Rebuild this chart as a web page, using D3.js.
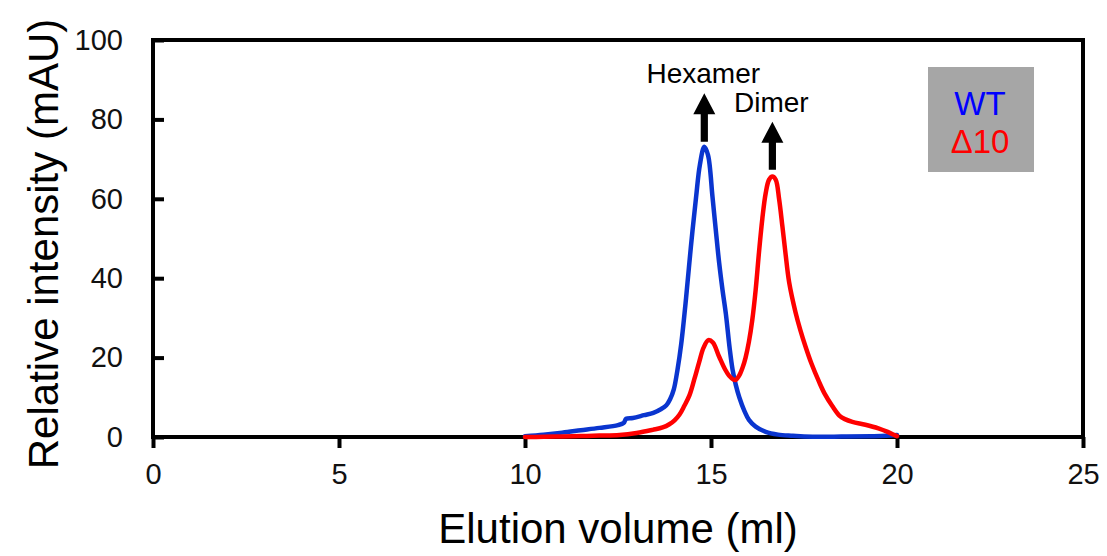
<!DOCTYPE html>
<html>
<head>
<meta charset="utf-8">
<script src="https://cdn.jsdelivr.net/npm/d3@7"></script>
<style>
  body { margin: 0; background: #fff; }
  svg { display: block; }
  svg text { font-family: Arial, "Liberation Sans", sans-serif; }
</style>
</head>
<body>
<svg id="chart" width="1107" height="556"></svg>
<script>
// WT trace (elution volume in ml, intensity in mAU)
var wtVolume = [10.0, 10.5, 11.0, 11.5, 12.0, 12.5, 12.65, 12.72, 12.9, 13.2, 13.45, 13.65, 13.8, 13.9,
  14.0, 14.1, 14.2, 14.33, 14.46, 14.6, 14.7, 14.82, 14.92, 15.04, 15.13, 15.22, 15.31, 15.4, 15.5,
  15.58, 15.67, 15.76, 15.9, 16.02, 16.2, 16.47, 16.8, 17.2, 17.5, 18.5, 19.3, 19.7, 20.0];
var wtValues = [0.2, 0.6, 1.1, 1.7, 2.3, 3.0, 3.5, 4.6, 4.8, 5.5, 6.1, 7.0, 8.0, 9.5,
  12, 17, 23.5, 35, 48, 60.5, 68.5, 73.1, 71, 60.5, 52, 43.8, 37, 31, 22.5,
  17, 13, 10, 6.5, 4.3, 2.6, 1.3, 0.6, 0.3, 0.1, 0.1, 0.2, 0.3, 0.5];

// Δ10 trace
var d10Volume = [10.0, 10.5, 11.0, 11.5, 12.0, 12.54, 13.0, 13.43, 13.7, 13.88, 14.02, 14.15, 14.28,
  14.42, 14.55, 14.68, 14.8, 14.93, 15.05, 15.22, 15.38, 15.49, 15.6, 15.67, 15.76, 15.85, 15.93,
  16.02, 16.11, 16.2, 16.29, 16.38, 16.47, 16.56, 16.65, 16.74, 16.83, 16.92, 17.0, 17.1, 17.27,
  17.4, 17.54, 17.7, 17.9, 18.05, 18.26, 18.45, 18.6, 18.8, 19.15, 19.5, 19.75, 19.95, 20.0];
var d10Values = [0, 0.05, 0.15, 0.25, 0.35, 0.5, 1.0, 1.8, 2.4, 3.2, 4.2, 5.6, 7.8,
  10.5, 14.5, 18.8, 22.5, 24.4, 23.8, 20.2, 17, 15.4, 14.5, 14.4, 15.5, 17.5, 20,
  24, 29.5, 37, 46.5, 55, 61.4, 64.8, 65.6, 64.8, 60, 53, 46.5, 39, 31.5,
  27, 22.8, 18.5, 14, 11, 7.8, 5.4, 4.5, 3.8, 3.1, 2.2, 1.3, 0.4, 0.2];

var xTicks = [0, 5, 10, 15, 20, 25];
var yTicks = [0, 20, 40, 60, 80, 100];

// peak annotations: label, volume, arrow base, arrow tip
var peakLabels = ["Hexamer", "Dimer"];
var peakVolume = [14.82, 16.65];
var arrowBase = [74.4, 67.3];
var arrowTip = [86.6, 79.4];

var seriesNames = ["WT", "\u039410"];
var seriesColors = ["#0a35cf", "#ff0000"];
var legendColors = ["#0000ff", "#ff0000"];

var svg = d3.select("#chart");
var margin = { top: 40, right: 24, bottom: 119, left: 153 };
var plotL = margin.left, plotR = 1107 - margin.right;
var plotT = margin.top, plotB = 556 - margin.bottom;

var x = d3.scaleLinear().domain([0, 25]).range([plotL, plotR]);
var y = d3.scaleLinear().domain([0, 100]).range([plotB, plotT]);

// x axis (ticks outward)
var gx = svg.append("g")
    .attr("transform", "translate(0," + plotB + ")")
    .call(d3.axisBottom(x).tickValues(xTicks).tickSize(11).tickPadding(15).tickFormat(d3.format("d")));
gx.attr("font-family", "Arial, 'Liberation Sans', sans-serif").attr("font-size", 29);
gx.select(".domain").remove();
gx.selectAll("line").attr("stroke", "#000").attr("stroke-width", 4);
gx.selectAll("text").attr("fill", "#111");

// y axis (ticks inward)
var gy = svg.append("g")
    .attr("transform", "translate(" + plotL + ",0)")
    .call(d3.axisLeft(y).tickValues(yTicks).tickSize(-11).tickPadding(30));
gy.attr("font-family", "Arial, 'Liberation Sans', sans-serif").attr("font-size", 29);
gy.select(".domain").remove();
gy.selectAll("line").attr("stroke", "#000").attr("stroke-width", 4);
gy.selectAll("text").attr("fill", "#111");

// frame
svg.append("rect")
    .attr("x", plotL).attr("y", plotT)
    .attr("width", plotR - plotL).attr("height", plotB - plotT)
    .attr("fill", "none").attr("stroke", "#000").attr("stroke-width", 4);

// traces
var line = d3.line()
    .x(function (d) { return x(d[0]); })
    .y(function (d) { return y(d[1]); })
    .curve(d3.curveCatmullRom.alpha(0.5));

var traces = [d3.zip(wtVolume, wtValues), d3.zip(d10Volume, d10Values)];
traces.forEach(function (t, i) {
    svg.append("path")
        .datum(t)
        .attr("fill", "none")
        .attr("stroke", seriesColors[i])
        .attr("stroke-width", 4.5)
        .attr("stroke-linejoin", "round")
        .attr("stroke-linecap", "round")
        .attr("d", line);
});

// arrows + labels
peakLabels.forEach(function (lab, i) {
    var cx = x(peakVolume[i]);
    var yb = y(arrowBase[i]), yt = y(arrowTip[i]);
    var headLen = 21, headW = 11, shaftW = 3.6;
    var p = d3.path();
    p.moveTo(cx - shaftW, yb);
    p.lineTo(cx - shaftW, yt + headLen);
    p.lineTo(cx - headW, yt + headLen);
    p.lineTo(cx, yt);
    p.lineTo(cx + headW, yt + headLen);
    p.lineTo(cx + shaftW, yt + headLen);
    p.lineTo(cx + shaftW, yb);
    p.closePath();
    svg.append("path").attr("d", p.toString()).attr("fill", "#000");
    svg.append("text")
        .attr("x", cx - 1)
        .attr("y", yt - 10)
        .attr("text-anchor", "middle")
        .attr("font-size", 28)
        .attr("fill", "#000")
        .text(lab);
});

// legend
svg.append("rect")
    .attr("x", 928).attr("y", 67).attr("width", 106).attr("height", 105)
    .attr("fill", "#a6a6a6");
seriesNames.forEach(function (n, i) {
    svg.append("text")
        .attr("x", 980)
        .attr("y", 115 + i * 38)
        .attr("text-anchor", "middle")
        .attr("font-size", 33)
        .attr("fill", legendColors[i])
        .text(n);
});

// axis titles
svg.append("text")
    .attr("x", (plotL + plotR) / 2)
    .attr("y", 543)
    .attr("text-anchor", "middle")
    .attr("font-size", 42)
    .attr("fill", "#000")
    .text("Elution volume (ml)");

svg.append("text")
    .attr("transform", "translate(58," + 244 + ") rotate(-90)")
    .attr("text-anchor", "middle")
    .attr("font-size", 42)
    .attr("fill", "#000")
    .text("Relative intensity (mAU)");
</script>
</body>
</html>
